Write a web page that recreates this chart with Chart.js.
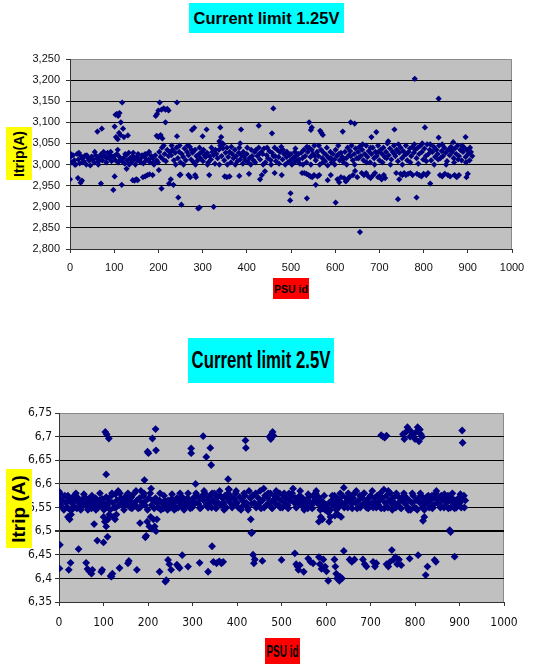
<!DOCTYPE html>
<html>
<head>
<meta charset="utf-8">
<script src="https://cdn.jsdelivr.net/npm/chart.js@4.4.1/dist/chart.umd.min.js"></script>
<style>
  body { margin: 0; background: #fff; }
  #wrap { position: relative; width: 536px; height: 664px; overflow: hidden; background: #fff; }
  canvas { position: absolute; left: 0; }
  .box { position: absolute; display: flex; align-items: center; justify-content: center;
         font-family: 'Liberation Sans', Arial, sans-serif; font-weight: bold; color: #000; white-space: nowrap; }
  .box span { display: inline-block; }
</style>
</head>
<body>
<div id="wrap">
  <canvas id="chart125" width="536" height="300" style="top:0"></canvas>
  <canvas id="chart25" width="536" height="334" style="top:330px"></canvas>

  <div class="box" style="left:189px;top:3px;width:155px;height:30px;background:#00ffff;font-size:16.5px">
    <span>Current limit 1.25V</span></div>
  <div class="box" style="left:6px;top:127px;width:26px;height:53px;background:#ffff00;font-size:14px">
    <span style="transform:rotate(-90deg)">Itrip(A)</span></div>
  <div class="box" style="left:273px;top:278px;width:36px;height:21px;background:#ff0000;font-size:10.5px">
    <span>PSU id</span></div>

  <div class="box" style="left:188px;top:338px;width:146px;height:45px;background:#00ffff;font-size:16.8px">
    <span style="transform:scaleY(1.45)">Current limit 2.5V</span></div>
  <div class="box" style="left:6px;top:469px;width:26px;height:79px;background:#ffff00;font-size:19px">
    <span style="transform:rotate(-90deg)">Itrip (A)</span></div>
  <div class="box" style="left:265px;top:638px;width:35px;height:26px;background:#ff0000;font-size:10px">
    <span style="transform:scaleY(1.6)">PSU id</span></div>
</div>

<script>
// Current limit 1.25V: main band around 3.00-3.05 A
const band125 = [
  [1,3.018],[4,3.005],[7,3.022],[10,3.01],[13,3.0],[16,3.025],[19,3.012],[22,3.003],[25,3.02],[28,3.015],
  [31,3.008],[34,3.021],[37,3.0],[40,3.016],[43,3.01],[46,2.998],[49,3.019],[52,3.012],[55,3.005],[58,3.022],
  [61,3.015],[64,3.0],[67,3.018],[70,3.024],[73,3.01],[76,3.03],[79,3.02],[82,3.005],[85,3.028],[88,3.015],
  [91,3.022],[94,3.008],[97,3.018],[100,3.02],[103,3.01],[106,3.025],[109,3.005],[112,3.018],[115,3.012],[118,3.008],
  [121,3.015],[124,3.002],[127,3.022],[130,3.01],[133,3.028],[136,3.015],[139,3.005],[142,3.02],[145,3.012],[148,3.0],
  [151,3.018],[154,3.025],[157,3.008],[160,3.015],[163,3.022],[166,3.003],[169,3.018],[172,3.01],[175,3.025],[178,3.012],
  [181,3.005],[184,3.02],[187,3.015],[190,3.0],[193,3.022],[196,3.01],[199,3.005],[202,3.03],[205,3.018],[208,3.04],
  [211,3.012],[214,3.025],[217,3.008],[220,3.035],[223,3.02],[226,3.03],[229,3.022],[232,3.035],[235,3.01],[238,3.028],
  [241,3.04],[244,3.015],[247,3.03],[250,3.005],[253,3.025],[256,3.018],[259,3.038],[262,3.01],[265,3.03],[268,3.022],
  [271,3.042],[274,3.012],[277,3.028],[280,3.005],[283,3.035],[286,3.02],[289,3.01],[292,3.025],[295,3.015],[298,3.03],
  [301,3.008],[304,3.022],[307,3.018],[310,3.028],[313,3.005],[316,3.02],[319,3.012],[322,3.03],[325,3.022],[328,3.002],
  [331,3.025],[334,3.015],[337,3.035],[340,3.045],[343,3.02],[346,3.038],[349,3.01],[352,3.028],[355,3.04],[358,3.018],
  [361,3.03],[364,3.005],[367,3.025],[370,3.015],[373,3.035],[376,3.02],[379,3.008],[382,3.028],[385,3.012],[388,3.022],
  [391,3.002],[394,3.018],[397,3.01],[400,3.025],[403,3.005],[406,3.015],[409,3.0],[412,3.02],[415,3.01],[418,3.03],
  [421,3.035],[424,3.02],[427,3.04],[430,3.012],[433,3.03],[436,3.025],[439,3.038],[442,3.005],[445,3.022],[448,3.015],
  [451,3.032],[454,3.01],[457,3.028],[460,3.02],[463,3.04],[466,3.008],[469,3.035],[472,3.018],[475,3.03],[478,3.042],
  [481,3.012],[484,3.025],[487,3.0],[490,3.018],[493,3.005],[496,3.022],[499,3.01],[502,3.0],[505,3.015],[508,3.005],
  [511,3.02],[514,3.01],[517,3.025],[520,3.002],[523,3.028],[526,3.015],[529,3.035],[532,3.02],[535,3.005],[538,3.03],
  [541,3.04],[544,3.018],[547,3.035],[550,3.025],[553,3.045],[556,3.01],[559,3.03],[562,3.02],[565,3.0],[568,3.035],
  [571,3.015],[574,3.028],[577,3.008],[580,3.022],[583,2.998],[586,3.015],[589,3.03],[592,3.005],[595,3.025],[598,3.012],
  [601,3.035],[604,3.02],[607,3.045],[610,3.01],[613,3.028],[616,3.018],[619,3.005],[622,3.03],[625,3.015],[628,3.04],
  [631,3.022],[634,3.032],[637,3.045],[640,3.01],[643,3.025],[646,3.038],[649,3.015],[652,3.03],[655,3.042],[658,3.02],
  [661,3.035],[664,3.01],[667,3.025],[670,3.045],[673,3.018],[676,3.032],[679,3.005],[682,3.025],[685,3.04],[688,3.015],
  [691,3.03],[694,3.02],[697,3.045],[700,3.01],[703,3.035],[706,3.025],[709,3.04],[712,3.018],[715,3.03],[718,3.05],
  [721,3.022],[724,3.038],[727,3.012],[730,3.03],[733,3.045],[736,3.02],[739,3.035],[742,3.008],[745,3.028],[748,3.04],
  [751,3.015],[754,3.032],[757,3.022],[760,3.045],[763,3.01],[766,3.03],[769,3.038],[772,3.02],[775,3.042],[778,3.028],
  [781,3.035],[784,3.015],[787,3.04],[790,3.025],[793,3.045],[796,3.03],[799,3.012],[802,3.038],[805,3.02],[808,3.048],
  [811,3.025],[814,3.035],[817,3.01],[820,3.03],[823,3.042],[826,3.018],[829,3.035],[832,3.025],[835,3.045],[838,3.015],
  [841,3.032],[844,3.02],[847,3.04],[850,3.028],[853,3.008],[856,3.035],[859,3.022],[862,3.042],[865,3.03],[868,3.015],
  [871,3.038],[874,3.025],[877,3.045],[880,3.02],[883,3.035],[886,3.01],[889,3.03],[892,3.04],[895,3.018],[898,3.035],
  [901,3.025],[904,3.01],[907,3.03],[910,3.02]
];
// more units in the same band, filling its upper and lower edges
const edge125 = [
  [2,3.025],[11,3.0],[20,3.028],[29,3.005],[38,3.022],[47,3.012],[56,3.03],[65,3.008],[74,3.02],[83,3.015],
  [92,3.03],[125,3.025],[134,3.0],[143,3.028],[152,3.01],[161,3.005],[170,3.025],[179,3.03],[188,3.005],[230,3.045],
  [239,3.0],[248,3.045],[257,3.0],[266,3.045],[275,3.035],[284,3.0],[293,3.04],[302,3.035],[311,3.0],[320,3.04],
  [329,3.035],[338,3.0],[347,3.048],[356,3.0],[365,3.042],[374,3.0],[383,3.04],[392,3.03],[401,3.04],[410,3.035],
  [419,3.005],[428,3.025],[437,3.0],[446,3.04],[455,3.0],[464,3.02],[473,3.002],[482,3.035],[491,3.03],[500,3.025],
  [509,3.03],[518,3.012],[527,3.0],[536,3.042],[545,3.0],[554,3.02],[563,3.045],[572,3.005],[581,3.04],[590,3.015],
  [599,3.0],[608,3.025],[617,3.012],[626,3.0],[635,3.02],[644,3.0],[653,3.015],[662,3.048],[671,3.005],[680,3.04],
  [689,3.0],[698,3.03],[707,3.005],[716,3.015],[725,3.0],[734,3.025],[743,3.048],[752,3.0],[761,3.025],[770,3.005],
  [779,3.048],[788,3.002],[797,3.05],[806,3.008],[815,3.048],[824,3.0],[833,3.012],[842,3.048],[851,3.0],[860,3.035],
  [869,3.005],[878,3.012],[887,3.045],[896,3.005],[905,3.04]
];
// Current limit 1.25V: lower sub-band and outliers
const spread125 = [
  [0,2.965],[18,2.968],[24,2.957],[27,2.962],[62,3.078],[72,3.085],[70,2.955],[98,2.94],[101,2.972],[117,2.952],
  [101,3.09],[103,3.118],[106,3.12],[109,3.115],[112,3.122],[115,3.1],[118,3.147],[104,3.065],[108,3.06],[111,3.075],
  [114,3.07],[120,3.085],[122,3.065],[108,3.035],[128,2.99],[131,3.069],[142,2.963],[146,2.962],[150,2.965],[153,2.963],
  [165,2.97],[170,2.972],[175,2.975],[180,2.977],[187,2.975],[194,3.115],[197,3.12],[200,3.128],[203,3.147],[207,3.13],
  [212,3.133],[216,3.13],[220,3.132],[223,3.128],[196,3.068],[200,3.065],[205,3.07],[209,3.062],[212,3.045],[216,3.1],
  [201,2.987],[207,2.943],[224,2.955],[228,2.965],[234,2.952],[242,3.147],[242,3.067],[245,2.922],[252,2.905],[250,2.976],
  [248,2.975],[268,2.975],[272,2.97],[283,2.975],[285,2.97],[276,3.082],[281,3.087],[290,2.896],[293,2.898],[300,3.067],
  [309,3.083],[315,2.975],[325,2.9],[340,3.088],[338,3.055],[342,3.065],[345,3.05],[350,2.972],[355,2.97],[361,2.972],
  [383,2.973],[387,3.083],[385,3.05],[405,2.978],[427,3.092],[430,2.965],[434,2.975],[441,2.984],[460,3.133],[457,3.074],
  [463,2.98],[479,2.975],[498,2.915],[499,2.932],[510,3.038],[525,2.98],[530,2.98],[535,2.978],[536,2.92],[541,3.1],
  [547,3.088],[545,3.082],[540,2.975],[544,2.972],[548,2.97],[552,2.975],[556,2.952],[560,2.972],[564,2.975],[566,3.08],
  [569,3.075],[572,3.07],[583,2.963],[590,2.975],[601,2.91],[605,2.965],[609,2.958],[613,2.97],[617,3.078],[620,2.968],
  [624,2.96],[628,2.965],[632,2.97],[635,3.1],[644,3.097],[640,2.975],[645,2.985],[650,2.97],[656,2.84],[660,2.98],
  [665,2.975],[670,2.98],[675,2.972],[680,2.968],[682,3.065],[686,2.975],[690,2.98],[693,3.077],[697,2.97],[700,2.972],
  [705,2.965],[710,2.975],[713,2.968],[720,3.055],[734,3.083],[738,2.98],[742,2.918],[745,2.965],[748,2.978],[752,2.975],
  [756,2.98],[760,2.975],[765,2.978],[770,2.98],[775,2.975],[780,3.203],[784,2.922],[785,2.978],[790,2.975],[795,2.972],
  [800,2.978],[803,3.088],[806,2.975],[810,2.98],[815,2.955],[834,3.156],[834,3.064],[837,2.975],[842,2.972],[848,2.978],
  [855,2.975],[860,2.972],[867,3.053],[870,2.975],[875,2.97],[880,2.975],[895,3.065],[897,2.97],[900,2.978]
];

// Current limit 2.5V: main band around 6.55-6.58 A
const band25 = [
  [1,6.57],[4,6.555],[7,6.565],[10,6.548],[13,6.575],[16,6.56],[19,6.55],[22,6.568],[25,6.545],[28,6.56],
  [31,6.572],[34,6.552],[37,6.565],[40,6.548],[43,6.57],[46,6.558],[49,6.545],[52,6.565],[55,6.555],[58,6.572],
  [61,6.56],[64,6.55],[67,6.568],[70,6.558],[73,6.548],[76,6.565],[79,6.555],[82,6.57],[85,6.56],[88,6.55],
  [91,6.565],[94,6.555],[97,6.568],[100,6.56],[103,6.548],[106,6.572],[109,6.555],[112,6.565],[115,6.545],[118,6.575],
  [121,6.56],[124,6.55],[127,6.578],[130,6.565],[133,6.585],[136,6.555],[139,6.57],[142,6.56],[145,6.552],[148,6.568],
  [151,6.575],[154,6.558],[157,6.565],[160,6.55],[163,6.572],[166,6.56],[169,6.58],[172,6.555],[175,6.565],[178,6.548],
  [181,6.57],[184,6.585],[187,6.56],[190,6.575],[193,6.555],[196,6.565],[199,6.545],[202,6.57],[205,6.58],[208,6.555],
  [211,6.565],[214,6.548],[217,6.57],[220,6.56],[223,6.55],[226,6.565],[229,6.545],[232,6.558],[235,6.548],[238,6.565],
  [241,6.555],[244,6.545],[247,6.56],[250,6.55],[253,6.568],[256,6.555],[259,6.545],[262,6.562],[265,6.57],[268,6.55],
  [271,6.565],[274,6.558],[277,6.572],[280,6.548],[283,6.565],[286,6.555],[289,6.57],[292,6.56],[295,6.548],[298,6.565],
  [301,6.555],[304,6.572],[307,6.56],[310,6.575],[313,6.558],[316,6.568],[319,6.55],[322,6.575],[325,6.565],[328,6.58],
  [331,6.555],[334,6.57],[337,6.56],[340,6.575],[343,6.55],[346,6.565],[349,6.58],[352,6.558],[355,6.572],[358,6.56],
  [361,6.585],[364,6.555],[367,6.57],[370,6.56],[373,6.575],[376,6.55],[379,6.568],[382,6.588],[385,6.56],[388,6.572],
  [391,6.555],[394,6.568],[397,6.58],[400,6.56],[403,6.55],[406,6.572],[409,6.545],[412,6.565],[415,6.555],[418,6.575],
  [421,6.56],[424,6.55],[427,6.585],[430,6.57],[433,6.558],[436,6.575],[439,6.56],[442,6.58],[445,6.555],[448,6.57],
  [451,6.56],[454,6.548],[457,6.565],[460,6.59],[463,6.575],[466,6.555],[469,6.57],[472,6.56],[475,6.58],[478,6.55],
  [481,6.565],[484,6.575],[487,6.558],[490,6.57],[493,6.555],[496,6.58],[499,6.565],[502,6.55],[505,6.575],[508,6.56],
  [511,6.57],[514,6.555],[517,6.58],[520,6.565],[523,6.575],[526,6.59],[529,6.56],[532,6.57],[535,6.552],[538,6.565],
  [541,6.575],[544,6.558],[547,6.57],[550,6.55],[553,6.565],[556,6.56],[559,6.548],[562,6.572],[565,6.56],[568,6.555],
  [571,6.575],[574,6.565],[577,6.58],[580,6.56],[583,6.572],[586,6.555],[589,6.565],[592,6.548],[595,6.56],[598,6.545],
  [601,6.555],[604,6.548],[607,6.56],[610,6.545],[613,6.565],[616,6.555],[619,6.575],[622,6.56],[625,6.57],[628,6.55],
  [631,6.565],[634,6.558],[637,6.575],[640,6.592],[643,6.56],[646,6.57],[649,6.55],[652,6.565],[655,6.575],[658,6.558],
  [661,6.57],[664,6.58],[667,6.56],[670,6.548],[673,6.565],[676,6.575],[679,6.555],[682,6.57],[685,6.58],[688,6.56],
  [691,6.55],[694,6.568],[697,6.558],[700,6.575],[703,6.56],[706,6.55],[709,6.57],[712,6.56],[715,6.575],[718,6.555],
  [721,6.565],[724,6.548],[727,6.57],[730,6.588],[733,6.56],[736,6.575],[739,6.55],[742,6.565],[745,6.58],[748,6.558],
  [751,6.57],[754,6.56],[757,6.55],[760,6.575],[763,6.56],[766,6.57],[769,6.548],[772,6.565],[775,6.58],[778,6.558],
  [781,6.57],[784,6.55],[787,6.565],[790,6.545],[793,6.56],[796,6.575],[799,6.55],[802,6.565],[805,6.545],[808,6.57],
  [811,6.56],[814,6.575],[817,6.55],[820,6.565],[823,6.558],[826,6.572],[829,6.56],[832,6.55],[835,6.565],[838,6.575],
  [841,6.555],[844,6.57],[847,6.58],[850,6.56],[853,6.57],[856,6.555],[859,6.575],[862,6.565],[865,6.55],[868,6.57],
  [871,6.56],[874,6.575],[877,6.565],[880,6.55],[883,6.57],[886,6.56],[889,6.548],[892,6.565],[895,6.555],[898,6.57],
  [901,6.56],[904,6.55],[907,6.568],[910,6.575],[913,6.565]
];
// more units on the upper and lower edges of that band
const edge25 = [
  [2,6.58],[11,6.545],[20,6.575],[29,6.545],[38,6.58],[47,6.55],[56,6.578],[65,6.545],[74,6.575],[83,6.545],
  [92,6.58],[101,6.545],[119,6.58],[128,6.55],[137,6.58],[146,6.545],[155,6.58],[164,6.548],[173,6.585],[182,6.55],
  [191,6.58],[227,6.58],[236,6.575],[245,6.565],[254,6.578],[263,6.548],[272,6.58],[281,6.545],[290,6.58],[299,6.55],
  [308,6.58],[317,6.548],[326,6.585],[335,6.55],[344,6.58],[353,6.548],[362,6.575],[371,6.545],[380,6.58],[389,6.55],
  [398,6.585],[407,6.548],[416,6.58],[425,6.545],[434,6.575],[443,6.55],[452,6.585],[461,6.55],[470,6.58],[479,6.548],
  [488,6.585],[497,6.55],[506,6.58],[515,6.548],[524,6.58],[533,6.55],[542,6.585],[551,6.545],[560,6.578],[569,6.548],
  [578,6.585],[587,6.545],[596,6.575],[605,6.54],[614,6.575],[623,6.545],[632,6.58],[641,6.55],[650,6.58],[659,6.548],
  [668,6.585],[677,6.55],[686,6.58],[695,6.548],[704,6.585],[713,6.55],[722,6.58],[731,6.548],[740,6.585],[749,6.545],
  [758,6.58],[767,6.55],[776,6.575],[785,6.545],[794,6.58],[803,6.548],[812,6.58],[821,6.545],[830,6.575],[839,6.548],
  [848,6.585],[857,6.55],[866,6.578],[875,6.548],[884,6.58],[893,6.55],[902,6.578],[911,6.55]
];
// Current limit 2.5V: dips and outliers
const spread25 = [
  [0,6.584],[2,6.471],[1,6.421],[22,6.418],[26,6.433],[20,6.53],[24,6.525],[27,6.535],[44,6.462],[61,6.433],
  [64,6.42],[68,6.415],[73,6.41],[75,6.418],[79,6.515],[86,6.48],[95,6.414],[97,6.418],[100,6.476],[104,6.71],
  [107,6.705],[112,6.696],[106,6.62],[100,6.53],[103,6.52],[106,6.51],[109,6.488],[110,6.525],[113,6.535],[116,6.405],
  [118,6.404],[120,6.41],[122,6.53],[126,6.525],[129,6.535],[136,6.422],[155,6.432],[157,6.437],[175,6.418],[182,6.517],
  [192,6.608],[194,6.487],[196,6.49],[199,6.668],[201,6.665],[198,6.52],[203,6.51],[206,6.53],[207,6.59],[209,6.505],
  [210,6.696],[212,6.525],[215,6.51],[217,6.716],[218,6.671],[218,6.5],[220,6.525],[226,6.414],[239,6.393],[241,6.396],
  [245,6.439],[248,6.43],[252,6.418],[265,6.429],[268,6.425],[271,6.422],[277,6.449],[290,6.425],[297,6.675],[297,6.665],
  [307,6.6],[316,6.433],[324,6.701],[331,6.657],[335,6.414],[340,6.676],[342,6.64],[344,6.468],[347,6.435],[354,6.432],
  [360,6.436],[365,6.432],[369,6.435],[380,6.61],[381,6.589],[419,6.692],[420,6.676],[431,6.525],[432,6.496],[434,6.497],
  [436,6.45],[438,6.432],[440,6.44],[457,6.437],[473,6.7],[476,6.695],[478,6.705],[480,6.71],[482,6.702],[500,6.439],
  [530,6.453],[533,6.43],[536,6.425],[538,6.418],[541,6.428],[550,6.414],[560,6.442],[565,6.435],[571,6.432],[584,6.52],
  [588,6.53],[592,6.525],[584,6.445],[586,6.43],[590,6.42],[594,6.44],[598,6.425],[601,6.415],[605,6.395],[607,6.52],
  [610,6.53],[619,6.44],[621,6.425],[623,6.41],[625,6.4],[627,6.405],[630,6.395],[632,6.403],[636,6.4],[640,6.458],
  [620,6.533],[627,6.535],[634,6.53],[653,6.44],[658,6.435],[664,6.44],[683,6.44],[687,6.43],[691,6.425],[706,6.435],
  [710,6.425],[713,6.432],[724,6.703],[728,6.7],[732,6.698],[736,6.702],[736,6.43],[740,6.425],[744,6.435],[748,6.46],
  [752,6.44],[756,6.445],[760,6.43],[764,6.44],[769,6.428],[773,6.705],[776,6.695],[780,6.71],[783,6.72],[786,6.715],
  [789,6.7],[788,6.442],[792,6.71],[796,6.705],[800,6.695],[803,6.71],[806,6.72],[807,6.449],[809,6.69],[811,6.715],
  [813,6.705],[816,6.7],[818,6.522],[821,6.53],[824,6.407],[828,6.425],[844,6.439],[847,6.435],[878,6.502],[880,6.498],
  [889,6.446],[906,6.713],[907,6.687]
];

const xTicks = [0, 100, 200, 300, 400, 500, 600, 700, 800, 900, 1000];

const toPoints = arr => arr.map(p => ({ x: p[0], y: p[1] }));

// grey plot background and the light border on top / right, like Excel
const plotBg = {
  id: 'plotBg',
  beforeDraw(chart) {
    const a = chart.chartArea, ctx = chart.ctx;
    ctx.save();
    ctx.fillStyle = '#c0c0c0';
    ctx.fillRect(a.left, a.top, a.right - a.left, a.bottom - a.top);
    ctx.strokeStyle = '#8a8a8a';
    ctx.lineWidth = 1;
    ctx.beginPath();
    ctx.moveTo(a.left, a.top + 0.5);
    ctx.lineTo(a.right - 0.5, a.top + 0.5);
    ctx.lineTo(a.right - 0.5, a.bottom);
    ctx.stroke();
    ctx.restore();
  }
};

function makeChart(id, opts) {
  const near = (a, b) => Math.abs(a - b) < 1e-6;
  return new Chart(document.getElementById(id), {
    type: 'scatter',
    data: {
      datasets: [{
        data: toPoints(opts.series),
        pointStyle: 'rectRot',
        pointRadius: opts.radius,
        backgroundColor: '#000080',
        borderColor: '#000080',
        borderWidth: 0
      }]
    },
    plugins: [plotBg],
    options: {
      responsive: false,
      animation: false,
      events: [],
      layout: { padding: opts.padding },
      plugins: { legend: { display: false }, tooltip: { enabled: false } },
      scales: {
        x: {
          type: 'linear', min: 0, max: 1000,
          afterBuildTicks: s => { s.ticks = xTicks.map(v => ({ value: v })); },
          afterFit: s => { s.height = 30; },
          ticks: { font: opts.font, color: '#111', padding: opts.xPad, maxRotation: 0, callback: v => String(v) },
          grid: { drawOnChartArea: false, tickLength: 4, tickColor: '#333' },
          border: { color: '#333', width: 1 }
        },
        y: {
          min: opts.yMin, max: opts.yMax,
          afterBuildTicks: s => { s.ticks = opts.yTicks.map(v => ({ value: v })); },
          afterFit: s => { s.width = opts.yWidth; },
          ticks: { font: opts.font, color: '#111', padding: opts.yPad, callback: opts.fmt },
          grid: {
            color: c => (c.tick && (near(c.tick.value, opts.yMax) || near(c.tick.value, opts.yMin))) ? 'rgba(0,0,0,0)' : '#000',
            lineWidth: c => (c.tick && opts.thick !== undefined && near(c.tick.value, opts.thick)) ? 2 : 1,
            tickLength: 4, tickColor: '#333'
          },
          border: { color: '#333', width: 1 }
        }
      }
    }
  });
}

const ticks125 = [2.8, 2.85, 2.9, 2.95, 3.0, 3.05, 3.1, 3.15, 3.2, 3.25];
const ticks25 = [6.35, 6.4, 6.45, 6.5, 6.55, 6.6, 6.65, 6.7, 6.75];

makeChart('chart125', {
  series: band125.concat(edge125, spread125), radius: 3.1,
  padding: { left: 0, top: 59, right: 24, bottom: 21 },
  yWidth: 70, yMin: 2.8, yMax: 3.25, yTicks: ticks125,
  font: { family: "'Liberation Sans', Arial, sans-serif", size: 11 },
  xPad: 8, yPad: 6,
  fmt: v => v.toFixed(3).replace('.', ',')
});

makeChart('chart25', {
  series: band25.concat(edge25, spread25), radius: 3.9,
  padding: { left: 0, top: 83, right: 32, bottom: 32 },
  yWidth: 59, yMin: 6.35, yMax: 6.75, yTicks: ticks25, thick: 6.5,
  font: { family: "'Liberation Sans Narrow', 'DejaVu Sans Condensed', Arial, sans-serif", size: 12 },
  xPad: 10, yPad: 3,
  fmt: v => String(parseFloat(v.toFixed(2))).replace('.', ',')
});
</script>
</body>
</html>
